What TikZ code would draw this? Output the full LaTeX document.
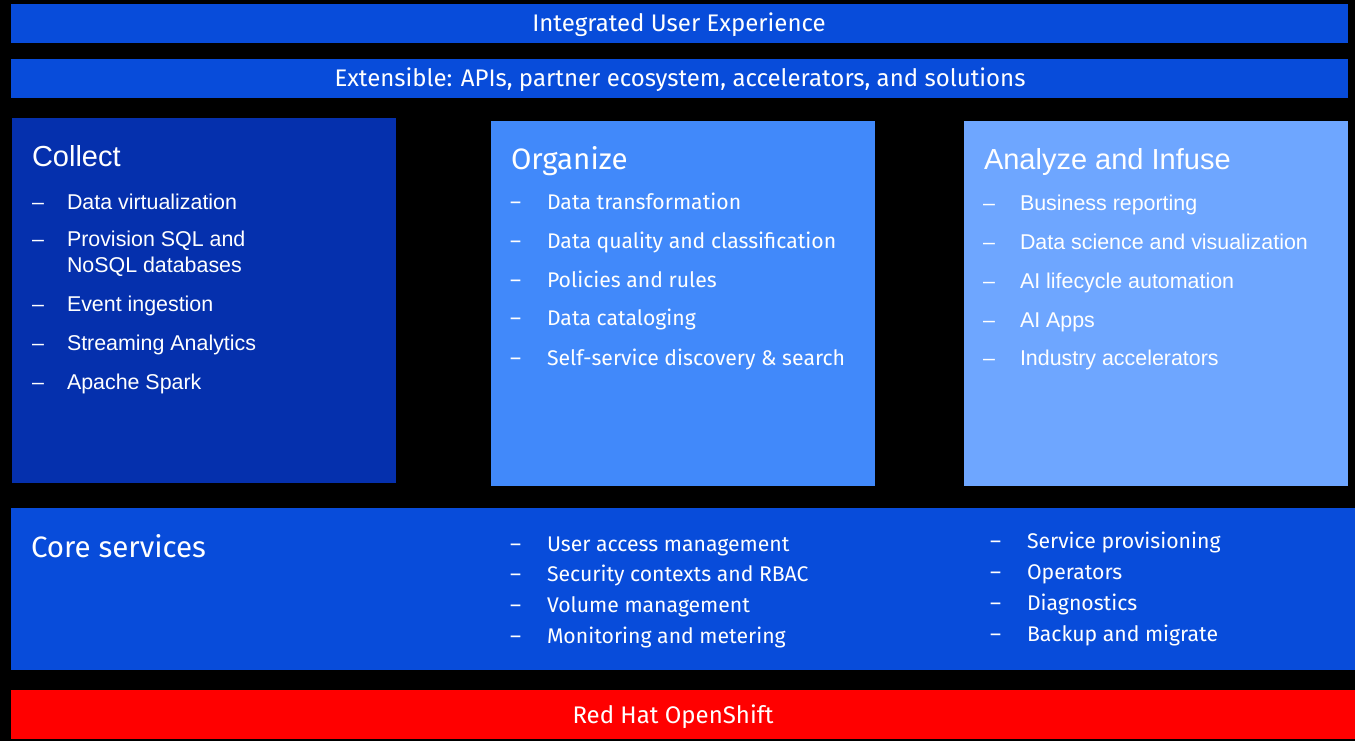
\documentclass[tikz,border=0pt]{standalone}
\usepackage{fontspec}
\setmainfont{Liberation Sans}
\newfontfamily\plex{Fira Sans}
\newfontfamily\arial{Liberation Sans}
\definecolor{barblue}{RGB}{8,76,218}
\definecolor{collectblue}{RGB}{5,48,173}
\definecolor{orgblue}{RGB}{65,137,250}
\definecolor{anablue}{RGB}{110,166,255}
\definecolor{rhred}{RGB}{255,0,0}
\tikzset{
  panel/.style={inner sep=0, outer sep=0},
  txt/.style={text=white, inner sep=0, outer sep=0, anchor=base west},
  ctxt/.style={text=white, inner sep=0, outer sep=0, anchor=base},
  ptitle/.style={txt, font=\plex\fontsize{29.5}{36}\selectfont},
  pitem/.style={txt, font=\plex\fontsize{21.2}{26}\selectfont},
  atitle/.style={txt, font=\arial\fontsize{29}{35}\selectfont},
  aitem/.style={txt, font=\arial\fontsize{21.4}{26}\selectfont},
  bartext/.style={ctxt, font=\plex\fontsize{24}{29}\selectfont},
}
\begin{document}
\begin{tikzpicture}[x=1pt,y=-1pt]
\fill[black] (0,0) rectangle (1355,741);
\useasboundingbox (0,0) rectangle (1355,741);
% bars
\fill[barblue] (11,4) rectangle (1348,43);
\fill[barblue] (11,59) rectangle (1348,98);
\node[bartext] (ux) at (679,32) {Integrated User Experience};
\node[bartext] (ext) at (680,87) {Extensible: APIs, partner ecosystem, accelerators, and solutions};
% panels
\fill[collectblue] (12,118) rectangle (396,483);
\fill[orgblue] (491,121) rectangle (875,486);
\fill[anablue] (964,121) rectangle (1348,486);
\fill[barblue] (11,508) rectangle (1355,670);
\fill[rhred] (11,690) rectangle (1355,739);
% Collect
\node[atitle] (ct) at (32,167) {Collect};
\foreach \y/\t [count=\i] in {209/Data virtualization, 246/Provision SQL and, 311/Event ingestion, 350/Streaming Analytics, 389/Apache Spark}{
  \node[aitem] (cd\i) at (32,\y) {–};
  \node[aitem] (ci\i) at (67,\y) {\t};
}
\node[aitem] (ci2b) at (67,272) {NoSQL databases};
% Organize
\node[ptitle] (ot) at (511,169) {Organize};
\foreach \y/\t [count=\i] in {209/Data transformation, 248/Data quality and classification, 287/Policies and rules, 325/Data cataloging, 365/Self-service discovery \& search}{
  \node[pitem] (od\i) at (510,\y) {–};
  \node[pitem] (oi\i) at (547,\y) {\t};
}
% Analyze
\node[atitle] (at) at (984,169) {Analyze and Infuse};
\foreach \y/\t [count=\i] in {210/Business reporting, 249/Data science and visualization, 288/AI lifecycle automation, 327/AI Apps, 365/Industry accelerators}{
  \node[aitem] (ad\i) at (983,\y) {–};
  \node[aitem] (ai\i) at (1020,\y) {\t};
}
% Core services
\node[ptitle] (cst) at (31,557) {Core services};
\foreach \y/\t [count=\i] in {551/User access management, 581/Security contexts and RBAC, 612/Volume management, 643/Monitoring and metering}{
  \node[pitem] (sd\i) at (510,\y) {–};
  \node[pitem] (si\i) at (547,\y) {\t};
}
\foreach \y/\t [count=\i] in {548/Service provisioning, 579/Operators, 610/Diagnostics, 641/Backup and migrate}{
  \node[pitem] (rd\i) at (990,\y) {–};
  \node[pitem] (ri\i) at (1027,\y) {\t};
}
% OpenShift
\node[bartext] (ocp) at (673,723) {Red Hat OpenShift};
\end{tikzpicture}
\end{document}
